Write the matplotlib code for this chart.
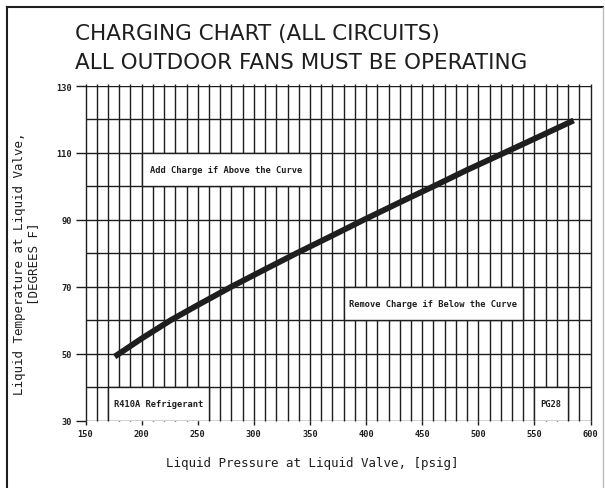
import matplotlib
matplotlib.use("Agg")
import matplotlib.pyplot as plt
from matplotlib.patches import Rectangle
from matplotlib.lines import Line2D

# charging curve
pressure = [176, 180, 200, 226, 250, 280, 310, 338, 370, 398, 430, 460, 490, 523, 555, 585]
temperature = [49.1, 50, 54.5, 60, 64.5, 70, 75.2, 80, 85.3, 90, 95.2, 100, 104.9, 110, 115.0, 119.7]

x_ticks = [150, 200, 250, 300, 350, 400, 450, 500, 550, 600]
y_ticks = [30, 50, 70, 90, 110, 130]

# note boxes: (x0, x1, y0, y1, text)
notes = [
    (200, 350, 100, 110, "Add Charge if Above the Curve"),
    (380, 540, 60, 70, "Remove Charge if Below the Curve"),
    (170, 260, 30, 40, "R410A Refrigerant"),
    (550, 580, 30, 40, "PG28"),
]

ink = "#1e1e1e"
mono = "DejaVu Sans Mono"

fig = plt.figure(figsize=(6.05, 4.89), dpi=100)
ax = fig.add_axes([85.5 / 605, 1 - 421.5 / 489, 505 / 605, 334.5 / 489])
ax.set_xlim(150, 600)
ax.set_ylim(30, 130)

# grid
ax.vlines(range(150, 601, 10), 30, 130.6, colors=ink, linewidth=1.0, zorder=1, clip_on=False)
ax.hlines(range(30, 131, 10), 150, 600, colors=ink, linewidth=1.0, zorder=1)

for x0, x1, y0, y1, txt in notes:
    ax.add_patch(Rectangle((x0, y0), x1 - x0, y1 - y0, facecolor="white",
                           edgecolor=ink, linewidth=1.0, zorder=3))
    ax.text((x0 + x1) / 2, (y0 + y1) / 2, txt, ha="center", va="center",
            family=mono, fontweight="bold", fontsize=6.3, color=ink, zorder=4)

ax.plot(pressure, temperature, color=ink, linewidth=4.2, solid_capstyle="butt",
        solid_joinstyle="round", zorder=5)

for s in ax.spines.values():
    s.set_visible(False)

ax.set_xticks(x_ticks)
ax.set_yticks(y_ticks)
ax.tick_params(axis="x", length=3, width=1.0, color=ink, pad=3)
ax.tick_params(axis="y", length=7, width=1.0, color=ink, pad=3)
for lab in ax.get_xticklabels() + ax.get_yticklabels():
    lab.set_family(mono)
    lab.set_fontweight("bold")
    lab.set_fontsize(6.2)
    lab.set_color(ink)

fig.text(312 / 605, 1 - 464 / 489, "Liquid Pressure at Liquid Valve, [psig]",
         ha="center", va="center", family=mono, fontsize=9, color=ink)
fig.text(27 / 605, 1 - 264 / 489, "Liquid Temperature at Liquid Valve,\n[DEGREES F]",
         ha="center", va="center", rotation=90, family=mono, fontsize=9,
         color=ink, linespacing=1.1)

fig.text(75 / 605, 1 - 40 / 489, "CHARGING CHART (ALL CIRCUITS)", ha="left",
         va="baseline", family="DejaVu Sans", fontsize=15.5, color=ink)
fig.text(75 / 605, 1 - 69 / 489, "ALL OUTDOOR FANS MUST BE OPERATING", ha="left",
         va="baseline", family="DejaVu Sans", fontsize=15.5, color=ink)

# page frame
fig.add_artist(Line2D([7 / 605, 7 / 605], [0, 1 - 7.5 / 489], transform=fig.transFigure, color=ink, linewidth=1.5))
fig.add_artist(Line2D([7 / 605, 603 / 605], [1 - 7.5 / 489, 1 - 7.5 / 489], transform=fig.transFigure, color=ink, linewidth=1.5))
fig.add_artist(Line2D([603 / 605, 603 / 605], [0, 1 - 7.5 / 489], transform=fig.transFigure, color="#bbbbbb", linewidth=1.0))

fig.savefig("out.png", dpi=100)
